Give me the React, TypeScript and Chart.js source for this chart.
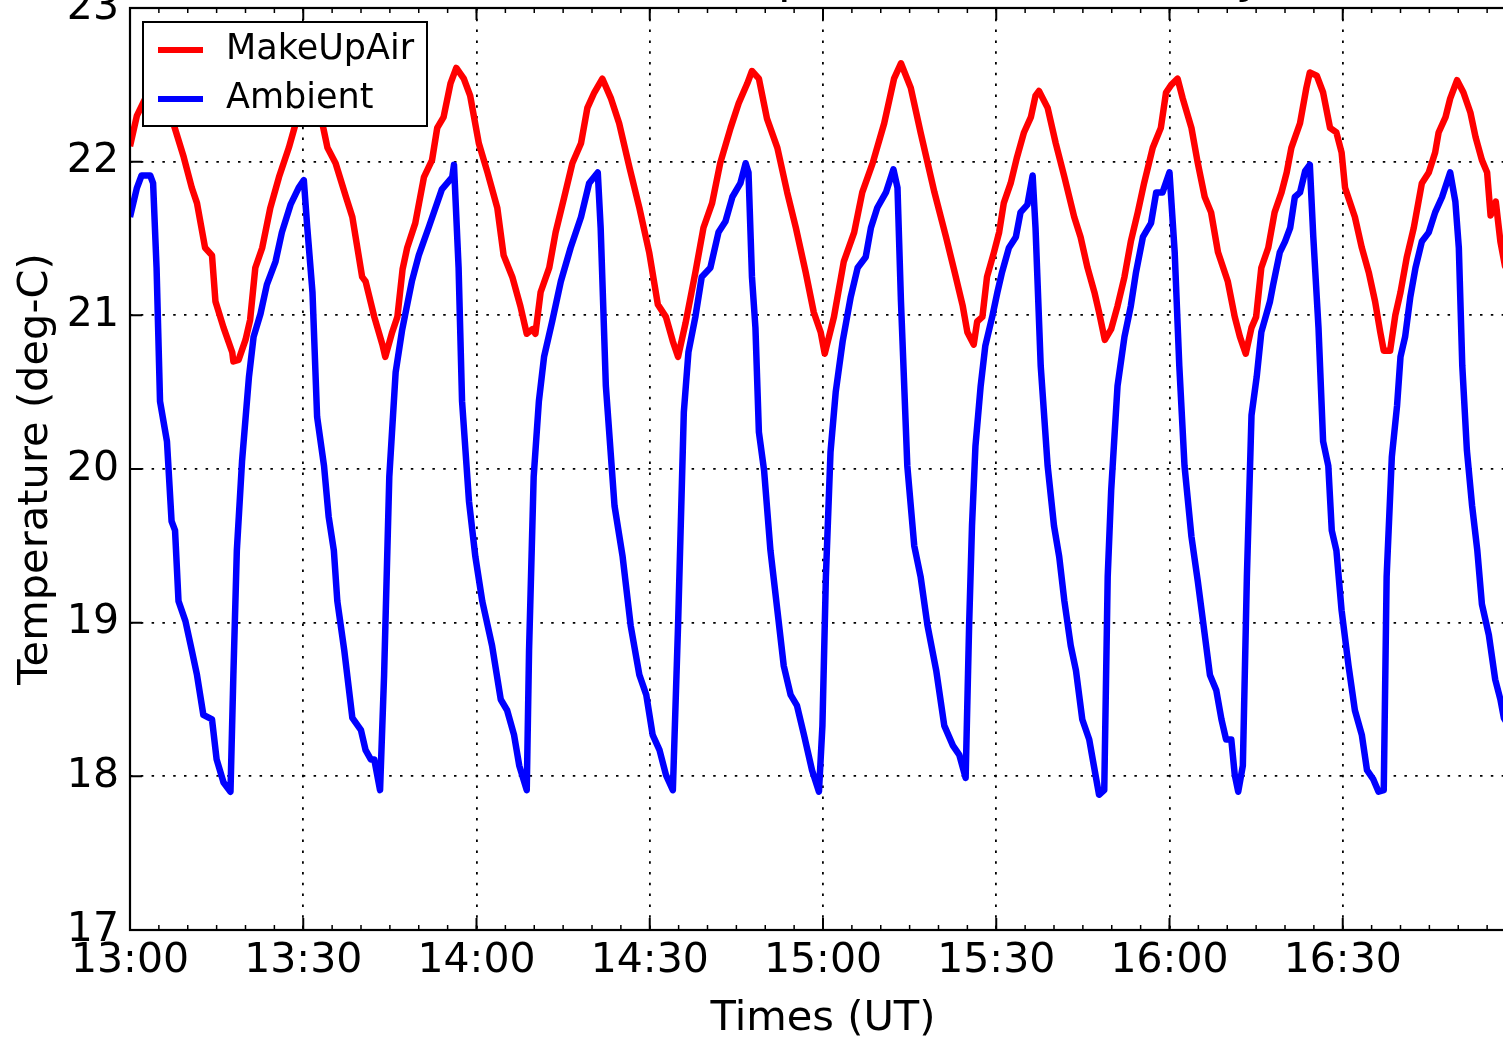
import React, { useEffect, useRef } from 'react';
import { Chart, registerables } from 'chart.js';

Chart.register(...registerables);

const FONT = '"DejaVu Sans", sans-serif';

// Chart text
const chartTitle = 'Ambient Air Temperature on Monday';
const xAxisTitle = 'Times (UT)';
const yAxisTitle = 'Temperature (deg-C)';
const seriesNames = ['MakeUpAir', 'Ambient'];
const seriesColors = ['#ff0000', '#0000ff'];

// Axes (minutes after 13:00 UT, degrees C)
const xMinMinutes = 0;
const xMaxMinutes = 240;
const xTickMinutes = [0, 30, 60, 90, 120, 150, 180, 210];
const xMinorStepMinutes = 5;
const yMin = 17;
const yMax = 23;
const yTickValues = [17, 18, 19, 20, 21, 22, 23];

// MakeUpAir series: minutes after 13:00 and temperature
const makeUpAirMinutes = [
  0, 1.2, 2.5, 4.5, 6.5, 7.5, 9.3, 10.7, 11.6, 13,
  14.2, 14.8, 16.2, 17.7, 17.9, 18.8, 20, 20.8, 21.7, 22.9,
  24.3, 25.8, 27.5, 28.7, 30, 31.2, 32.3, 33.3, 34.2, 35.6,
  37.4, 38.5, 40.2, 40.8, 42.3, 43.7, 44.2, 45.4, 46.3, 47.2,
  48, 49.4, 50.9, 52.3, 53.2, 54.3, 55.5, 56.5, 57.8, 58.9,
  60.4, 61.9, 63.6, 64.7, 66.2, 67.6, 68.7, 69.7, 70.2, 71.1,
  72.6, 73.7, 75.2, 76.6, 78.1, 79.2, 80.4, 81.8, 83.3, 84.7,
  86.5, 88.2, 89.9, 91.4, 92.8, 94, 94.9, 96.2, 97.9, 99.3,
  100.8, 102.2, 104, 105.4, 106.9, 107.7, 108.9, 110.3, 112.1, 113.8,
  115.3, 117, 118.4, 119.6, 120.3, 121.9, 123.6, 125.4, 126.8, 128.6,
  130.6, 132.3, 133.5, 135.2, 136.9, 139.3, 141.3, 142.8, 144.2, 145,
  146.1, 146.7, 147.6, 148.4, 149.6, 150.5, 151.3, 152.5, 153.6, 154.8,
  156, 156.8, 157.4, 158.9, 160.3, 161.8, 163.5, 164.6, 165.8, 167,
  167.8, 168.8, 169.9, 171, 172.2, 173.3, 174.5, 175.6, 177.1, 178.5,
  179.4, 180.3, 181.4, 182.3, 183.8, 184.9, 186.1, 187.2, 188.4, 190.1,
  191.3, 192.2, 193.2, 194.2, 195, 195.9, 197.1, 198.2, 199.4, 200.3,
  201.1, 202.6, 203.7, 204.3, 205.5, 206.6, 207.8, 208.9, 209.8, 210.4,
  212.1, 213.3, 214.5, 215.6, 216.5, 217.1, 218.2, 219.1, 220, 221.1,
  222.3, 223.7, 224.9, 226, 226.6, 227.8, 228.6, 229.8, 230.9, 232.1,
  233, 234.1, 235, 235.6, 236.5, 237.3, 238.1, 240,
];
const makeUpAirTemps = [
  22.1, 22.3, 22.4, 22.5, 22.4, 22.25, 22.03, 21.83, 21.73, 21.44,
  21.39, 21.09, 20.92, 20.76, 20.7, 20.71, 20.84, 20.97, 21.31, 21.44,
  21.7, 21.9, 22.09, 22.25, 22.45, 22.55, 22.4, 22.25, 22.09, 21.99,
  21.77, 21.64, 21.25, 21.22, 20.99, 20.81, 20.73, 20.89, 20.99, 21.3,
  21.44, 21.6, 21.9, 22.01, 22.22, 22.29, 22.51, 22.61, 22.54, 22.43,
  22.12, 21.93, 21.7, 21.39, 21.25, 21.06, 20.88, 20.91, 20.88, 21.15,
  21.31, 21.54, 21.77, 21.99, 22.12, 22.35, 22.45, 22.54, 22.41, 22.25,
  21.96, 21.7, 21.41, 21.07, 20.99, 20.83, 20.73, 20.95, 21.28, 21.57,
  21.73, 21.99, 22.22, 22.38, 22.51, 22.59, 22.54, 22.28, 22.09, 21.8,
  21.57, 21.28, 21.02, 20.89, 20.75, 20.99, 21.35, 21.54, 21.8, 21.99,
  22.25, 22.54, 22.64, 22.48, 22.19, 21.8, 21.51, 21.28, 21.06, 20.89,
  20.81, 20.96, 20.99, 21.25, 21.41, 21.54, 21.73, 21.86, 22.03, 22.19,
  22.29, 22.43, 22.46, 22.35, 22.12, 21.9, 21.64, 21.51, 21.31, 21.15,
  21.02, 20.84, 20.91, 21.06, 21.25, 21.48, 21.67, 21.86, 22.09, 22.22,
  22.45, 22.5, 22.54, 22.41, 22.22, 21.99, 21.77, 21.67, 21.41, 21.22,
  20.99, 20.86, 20.75, 20.92, 20.99, 21.31, 21.44, 21.67, 21.8, 21.93,
  22.09, 22.25, 22.48, 22.58, 22.56, 22.45, 22.22, 22.19, 22.06, 21.83,
  21.64, 21.44, 21.28, 21.09, 20.89, 20.77, 20.77, 21.0, 21.15, 21.38,
  21.57, 21.86, 21.93, 22.06, 22.19, 22.29, 22.41, 22.53, 22.45, 22.32,
  22.16, 22.01, 21.93, 21.65, 21.74, 21.48, 21.32, 21.2,
];

// Ambient series: minutes after 13:00 and temperature
const ambientMinutes = [
  0, 1.2, 2, 3.5, 4, 4.6, 5.2, 6.4, 7.2, 7.8,
  8.4, 9.6, 10.7, 11.6, 12.7, 14.2, 15, 16.2, 17.4, 17.9,
  18.5, 19.4, 20.6, 21.4, 22.6, 23.7, 25.2, 26.3, 27.8, 29.2,
  30.1, 30.7, 31.6, 32.4, 33.6, 34.4, 35.3, 35.9, 37.1, 38.5,
  40, 40.8, 41.7, 42.3, 43.3, 44, 44.9, 46, 47.1, 48.8,
  50, 51.7, 52.9, 54, 55.8, 56.1, 56.9, 57.5, 58.7, 59.8,
  61, 62.7, 64.2, 65.3, 66.5, 67.4, 68.7, 69.1, 69.9, 70.8,
  71.7, 73.1, 74.6, 76.3, 78.1, 79.5, 81, 81.5, 82.4, 83.9,
  85.3, 86.7, 88.2, 89.4, 90.5, 91.7, 92.8, 94, 94.9, 95.9,
  96.7, 97.9, 99, 100.5, 101.9, 103.1, 104.3, 105.7, 106.6, 107.1,
  107.7, 108.3, 108.9, 109.8, 110.9, 112.1, 113.2, 114.4, 115.5, 116.7,
  118.1, 119.3, 119.9, 120.5, 121.3, 122.2, 123.4, 124.8, 126, 127.4,
  128.3, 129.4, 130.9, 132.2, 132.9, 133.5, 134.6, 135.8, 136.9, 138.1,
  139.6, 141, 142.5, 143.6, 144.7, 145.3, 145.8, 146.4, 147.3, 148.1,
  149.3, 150.2, 151, 152.2, 153.4, 154.2, 155.4, 156.3, 156.8, 157.7,
  158.9, 160, 160.9, 161.8, 162.9, 163.8, 164.9, 166.1, 166.9, 167.8,
  168.7, 169.3, 169.9, 171, 172.2, 173.3, 174.2, 175.4, 176.8, 177.7,
  178.8, 180, 180.9, 181.7, 182.6, 183.8, 184.9, 185.8, 187, 188.1,
  189, 189.8, 190.7, 191.3, 191.9, 192.7, 193.4, 194.2, 195.1, 195.9,
  197.4, 197.9, 199.1, 200, 200.9, 201.7, 202.6, 203.5, 204.3, 204.9,
  205.8, 206.6, 207.5, 208.1, 208.9, 209.8, 211, 212.1, 213.3, 214.2,
  215.3, 216.2, 217.1, 217.6, 218.5, 219.4, 220, 220.8, 221.7, 222.6,
  223.7, 224.9, 226, 227.2, 228.6, 229.5, 230.1, 230.7, 231.5, 232.4,
  233.3, 234.1, 235.3, 236.4, 237.3, 237.9, 240,
];
const ambientTemps = [
  21.64, 21.83, 21.91, 21.91, 21.86, 21.31, 20.44, 20.18, 19.66, 19.6,
  19.14, 19.01, 18.82, 18.66, 18.4, 18.37, 18.11, 17.96, 17.9, 18.66,
  19.47, 20.05, 20.6, 20.86, 21.01, 21.2, 21.35, 21.54, 21.72, 21.83,
  21.88, 21.57, 21.15, 20.34, 20.02, 19.69, 19.47, 19.14, 18.82, 18.38,
  18.3, 18.17, 18.11, 18.11, 17.91, 18.66, 19.95, 20.63, 20.9, 21.22,
  21.39, 21.57, 21.7, 21.82, 21.9, 21.98, 21.31, 20.44, 19.79, 19.43,
  19.14, 18.85, 18.5, 18.43, 18.27, 18.07, 17.91, 18.82, 19.95, 20.44,
  20.73, 20.96, 21.22, 21.44, 21.64, 21.86, 21.93, 21.57, 20.54, 19.76,
  19.43, 18.98, 18.66, 18.53, 18.27, 18.17, 18.01, 17.91, 18.98, 20.37,
  20.76, 20.99, 21.25, 21.31, 21.54, 21.61, 21.77, 21.86, 21.99, 21.93,
  21.25, 20.92, 20.24, 19.99, 19.47, 19.08, 18.72, 18.53, 18.46, 18.27,
  18.04, 17.9, 18.33, 19.3, 20.11, 20.5, 20.83, 21.12, 21.31, 21.38,
  21.57, 21.7, 21.8, 21.95, 21.83, 21.09, 20.02, 19.5, 19.3, 18.98,
  18.69, 18.33, 18.2, 18.14, 17.99, 18.98, 19.63, 20.15, 20.54, 20.8,
  20.99, 21.15, 21.28, 21.44, 21.51, 21.67, 21.72, 21.91, 21.57, 20.67,
  20.02, 19.63, 19.43, 19.14, 18.85, 18.69, 18.37, 18.24, 18.07, 17.88,
  17.91, 19.3, 19.86, 20.54, 20.86, 21.06, 21.28, 21.51, 21.6, 21.8,
  21.8, 21.93, 21.41, 20.67, 20.02, 19.56, 19.27, 19.01, 18.66, 18.56,
  18.37, 18.24, 18.24, 18.01, 17.9, 18.07, 19.3, 20.35, 20.6, 20.89,
  21.09, 21.19, 21.41, 21.48, 21.57, 21.77, 21.8, 21.94, 21.98, 21.51,
  20.92, 20.18, 20.02, 19.6, 19.47, 19.08, 18.72, 18.43, 18.27, 18.04,
  17.98, 17.9, 17.91, 19.3, 20.08, 20.41, 20.73, 20.86, 21.12, 21.31,
  21.48, 21.54, 21.67, 21.77, 21.93, 21.74, 21.44, 20.67, 20.12, 19.76,
  19.47, 19.12, 18.92, 18.63, 18.5, 18.38, 18.25,
];

function formatClock(minutes: number): string {
  const total = 13 * 60 + Math.round(minutes);
  const h = Math.floor(total / 60);
  const m = total % 60;
  return `${h}:${m < 10 ? '0' : ''}${m}`;
}

const decorPlugin = {
  id: 'mplDecor',
  afterDraw(chart: any) {
    const { ctx, chartArea: a, scales } = chart;
    const xs = scales.x;
    const ys = scales.y;
    ctx.save();
    ctx.strokeStyle = '#000';
    // minor x ticks (inward, top and bottom)
    ctx.lineWidth = 1.5;
    ctx.beginPath();
    for (let m = xMinMinutes; m <= xMaxMinutes; m += xMinorStepMinutes) {
      const px = xs.getPixelForValue(m);
      ctx.moveTo(px, a.bottom);
      ctx.lineTo(px, a.bottom - 5);
      ctx.moveTo(px, a.top);
      ctx.lineTo(px, a.top + 5);
    }
    ctx.stroke();
    // major ticks
    ctx.lineWidth = 2;
    ctx.beginPath();
    for (const m of xTickMinutes) {
      const px = xs.getPixelForValue(m);
      ctx.moveTo(px, a.bottom);
      ctx.lineTo(px, a.bottom - 12);
      ctx.moveTo(px, a.top);
      ctx.lineTo(px, a.top + 12);
    }
    for (const v of yTickValues) {
      const py = ys.getPixelForValue(v);
      ctx.moveTo(a.left, py);
      ctx.lineTo(a.left + 12, py);
      ctx.moveTo(a.right, py);
      ctx.lineTo(a.right - 12, py);
    }
    ctx.stroke();
    // frame
    ctx.lineWidth = 2.2;
    ctx.strokeRect(a.left, a.top, a.right - a.left, a.bottom - a.top);

    // legend box
    const lx = a.left + 13;
    const ly = a.top + 14;
    const lw = 284;
    const lh = 104;
    ctx.fillStyle = '#fff';
    ctx.fillRect(lx, ly, lw, lh);
    ctx.lineWidth = 2;
    ctx.strokeStyle = '#000';
    ctx.strokeRect(lx, ly, lw, lh);
    ctx.font = `35px ${FONT}`;
    ctx.textBaseline = 'middle';
    ctx.textAlign = 'left';
    chart.data.datasets.forEach((ds: any, i: number) => {
      const cy = ly + 28 + i * 49;
      ctx.strokeStyle = ds.borderColor;
      ctx.lineWidth = 6;
      ctx.beginPath();
      ctx.moveTo(lx + 15, cy);
      ctx.lineTo(lx + 60, cy);
      ctx.stroke();
      ctx.fillStyle = '#000';
      ctx.fillText(ds.label, lx + 83, cy);
    });
    ctx.restore();
  },
};

export default function App() {
  const ref = useRef<HTMLCanvasElement | null>(null);

  useEffect(() => {
    if (!ref.current) return;
    const makeUpData = makeUpAirMinutes.map((m, i) => ({ x: m, y: makeUpAirTemps[i] }));
    const ambientData = ambientMinutes.map((m, i) => ({ x: m, y: ambientTemps[i] }));
    const chart = new Chart(ref.current, {
      type: 'line',
      data: {
        datasets: [
          {
            label: seriesNames[0],
            data: makeUpData,
            borderColor: seriesColors[0],
            backgroundColor: seriesColors[0],
            borderWidth: 6.5,
            pointRadius: 0,
            tension: 0,
            fill: false,
            borderJoinStyle: 'round',
          },
          {
            label: seriesNames[1],
            data: ambientData,
            borderColor: seriesColors[1],
            backgroundColor: seriesColors[1],
            borderWidth: 6.5,
            pointRadius: 0,
            tension: 0,
            fill: false,
            borderJoinStyle: 'round',
          },
        ],
      },
      options: {
        responsive: false,
        animation: false,
        devicePixelRatio: 1,
        layout: { padding: { left: 0, right: 130, top: 0, bottom: 0 } },
        plugins: {
          legend: { display: false },
          tooltip: { enabled: false },
          title: {
            display: true,
            fullSize: false,
            text: chartTitle,
            color: '#000',
            font: { family: FONT, size: 48, weight: 'normal', lineHeight: 1.2 },
            padding: { top: 10.4, bottom: 0 },
          },
        },
        scales: {
          x: {
            type: 'linear',
            min: xMinMinutes,
            max: xMaxMinutes,
            afterBuildTicks: (scale: any) => {
              scale.ticks = xTickMinutes.map((v) => ({ value: v }));
            },
            afterFit: (scale: any) => {
              scale.height = 114;
            },
            ticks: {
              autoSkip: false,
              maxRotation: 0,
              minRotation: 0,
              padding: 7,
              color: '#000',
              font: { family: FONT, size: 41 },
              callback: (v: any) => formatClock(Number(v)),
            },
            grid: { color: '#000', lineWidth: 1.8, drawTicks: false },
            border: { display: false, dash: [2.5, 8.3] },
            title: {
              display: true,
              text: xAxisTitle,
              color: '#000',
              font: { family: FONT, size: 41.6 },
              padding: { top: 0, bottom: 0 },
            },
          },
          y: {
            type: 'linear',
            min: yMin,
            max: yMax,
            afterBuildTicks: (scale: any) => {
              scale.ticks = yTickValues.map((v) => ({ value: v }));
            },
            afterFit: (scale: any) => {
              scale.width = 130;
            },
            ticks: {
              autoSkip: false,
              padding: 11,
              color: '#000',
              font: { family: FONT, size: 41 },
            },
            grid: { color: '#000', lineWidth: 1.8, drawTicks: false },
            border: { display: false, dash: [2.5, 8.3] },
            title: {
              display: true,
              text: yAxisTitle,
              color: '#000',
              font: { family: FONT, size: 41.6 },
              padding: { top: 11, bottom: 0 },
            },
          },
        },
      },
      plugins: [decorPlugin],
    } as any);
    return () => chart.destroy();
  }, []);

  return (
    <div
      style={{
        position: 'fixed',
        left: 0,
        top: 0,
        width: 1503,
        height: 1041,
        overflow: 'hidden',
        background: '#fff',
      }}
    >
      <canvas
        ref={ref}
        width={1646}
        height={1104}
        style={{ position: 'absolute', left: 0, top: -60, width: 1646, height: 1104 }}
      />
    </div>
  );
}
